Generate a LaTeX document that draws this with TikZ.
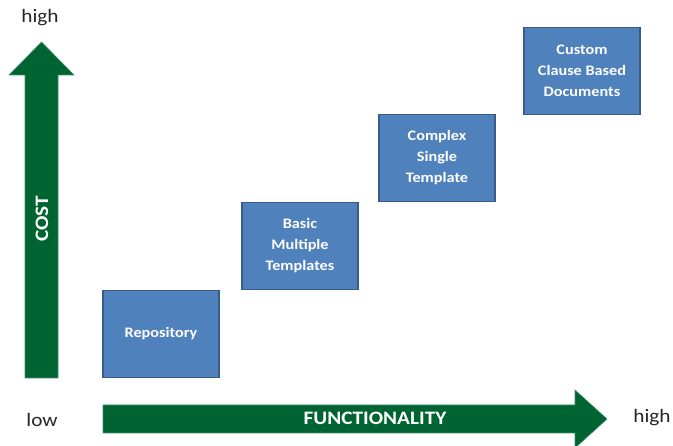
\documentclass[tikz,border=0pt]{standalone}
\usepackage{fontspec}
\setmainfont{Carlito}[FakeStretch=1.12]
\definecolor{boxBlue}{RGB}{79,129,189}
\definecolor{boxEdge}{RGB}{56,93,138}
\definecolor{arrowGreen}{RGB}{0,100,50}
\definecolor{labelGray}{RGB}{38,38,38}
\begin{document}
\begin{tikzpicture}
[x=1pt,y=-1pt,%
  boxDecorate/.style={shape=rectangle,draw=boxEdge,line width=1.5pt,fill=boxBlue,
    minimum width=116pt,minimum height=87pt,inner sep=0pt,align=center,
    text=white,font=\fontsize{14.5}{21}\selectfont\bfseries},%
  greenArrow/.style={fill=arrowGreen,draw=arrowGreen!75!white,line width=0.6pt},%
  axisLabel/.style={text=labelGray,font=\fontsize{19}{22}\selectfont},%
  arrowLabel/.style={text=white,font=\fontsize{19}{22}\selectfont\bfseries}]
\useasboundingbox (0,0) rectangle (673,446);
%% arrows
\draw[greenArrow] (25,378) -- (25,75) -- (9,75) -- (41.5,42) -- (74,75)
  -- (58,75) -- (58,378) -- cycle;
\draw[greenArrow] (103,405) -- (575,405) -- (575,390) -- (607,419)
  -- (575,448) -- (575,433) -- (103,433) -- cycle;
%% labels
\node (costHigh) at (40,18) [axisLabel] {high};
\node (costLow) at (42,420) [axisLabel] {low};
\node (funcHigh) at (652,418) [axisLabel] {high};
\node (cost) at (42,219) [arrowLabel,rotate=90] {COST};
\node (func) at (375,418) [arrowLabel] {FUNCTIONALITY};
%% boxes
\foreach \nodename/\x/\y/\nodetext in {repo/161/334/{Repository},
  basic/300/246/{Basic\\Multiple\\Templates},
  complex/437/158/{Complex\\Single\\Template},
  custom/582/71/{Custom\\Clause Based\\Documents}}
{
  \node (\nodename) at (\x,\y) [boxDecorate] {\nodetext};
}
\end{tikzpicture}
\end{document}
